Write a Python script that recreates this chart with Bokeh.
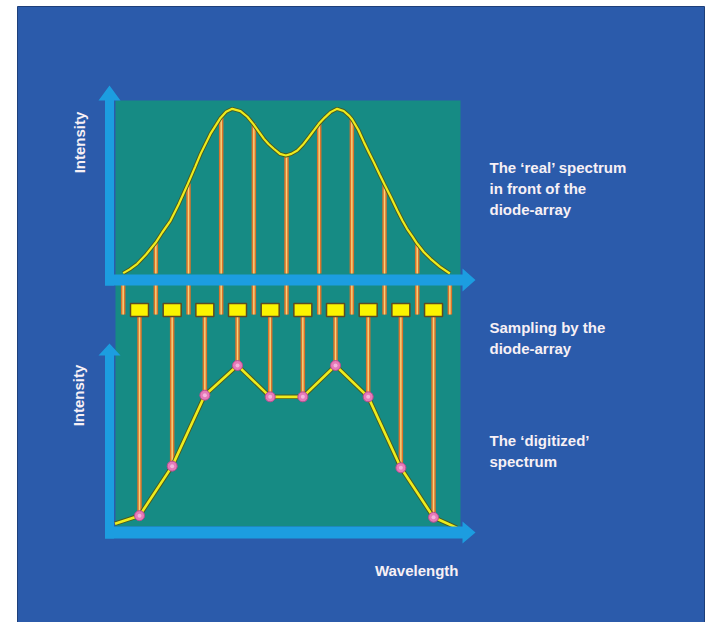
import math
from bokeh.plotting import figure
from bokeh.models import Range1d
from bokeh.core.properties import value
from bokeh.embed import file_html
from bokeh.resources import INLINE

# ---------------- data ----------------
# diode boundaries (wavelength index) and the real spectrum at them
edge_x = [0, 1, 2, 3, 4, 5, 6, 7, 8, 9, 10]
edge_real = [0, 18.8, 54.5, 94.5, 91, 72, 91.5, 93, 54, 18, 0]

# the smooth 'real' spectrum
curve_x = [0.00, 0.20, 0.43, 0.70, 0.99, 1.20, 1.45, 1.70, 1.98, 2.20, 2.37, 2.67,
           2.98, 3.15, 3.34, 3.59, 3.80, 3.98, 4.15, 4.31, 4.45, 4.61, 4.80, 4.98,
           5.15, 5.33, 5.50, 5.68, 5.85, 5.99, 6.17, 6.35, 6.55, 6.75, 6.92, 7.01,
           7.20, 7.37, 7.53, 7.67, 7.85, 8.00, 8.20, 8.39, 8.55, 8.69, 8.85, 9.00,
           9.20, 9.41, 9.70, 10.00]
curve_y = [0.2, 2.5, 5.9, 11.5, 18.6, 25.0, 32.1, 42.0, 54.3, 64.5, 72.5, 84.6,
           94.3, 98.0, 99.8, 98.4, 95.0, 90.7, 86.0, 81.6, 78.5, 75.6, 72.5, 71.5,
           72.5, 74.5, 78.0, 82.6, 87.0, 90.7, 94.5, 97.8, 99.8, 98.5, 95.5, 93.3,
           87.0, 79.6, 73.0, 67.5, 60.0, 53.9, 46.0, 38.2, 32.0, 27.1, 22.5, 18.0,
           13.0, 8.9, 4.0, 0.0]

diode_x = [0.5, 1.5, 2.5, 3.5, 4.5, 5.5, 6.5, 7.5, 8.5, 9.5]
digit_y = [9, 39, 82, 100, 81, 81, 100, 81, 38, 8]
digit_line_x = [-0.25, 0.5, 1.5, 2.5, 3.5, 4.5, 5.5, 6.5, 7.5, 8.5, 9.5, 10.22]
digit_line_y = [4.1, 9, 39, 82, 100, 81, 81, 100, 81, 38, 8, 1.6]

labels_real = ["The \u2018real\u2019 spectrum", "in front of the", "diode-array"]
labels_sampling = ["Sampling by the", "diode-array"]
labels_digit = ["The \u2018digitized\u2019", "spectrum"]
axis_y_label = "Intensity"
axis_x_label = "Wavelength"

# ---------------- layout ----------------
W, H = 709, 622
OFF = 0
X0_PX, X_SCALE = 122.67, 32.67     # page x of wavelength 0, px per unit
U0_PX, L0_PX, Y_SCALE = 273.0, 530.0, 1.65

BLUE = "#2b5bab"
TEAL = "#168b84"
ARROW = "#1c9de0"
YELLOW = "#ecec1e"
STICK_OUT = "#dc742a"
STICK_IN = "#f6d27a"
PINK = "#e67ab9"
TXT = "#f7f0f5"
FONT = value("Liberation Sans")

p = figure(width=W, height=H, x_range=Range1d(OFF, OFF + W), y_range=Range1d(OFF + H, OFF),
           output_backend="svg", toolbar_location=None, x_axis_type=None, y_axis_type=None,
           min_border=0)
p.outline_line_color = None
p.background_fill_color = "white"
p.border_fill_color = "white"
p.extra_x_ranges = {"wl": Range1d((OFF - X0_PX) / X_SCALE, (OFF + W - X0_PX) / X_SCALE)}
p.extra_y_ranges = {
    "upper": Range1d((U0_PX - (OFF + H)) / Y_SCALE, (U0_PX - OFF) / Y_SCALE),
    "lower": Range1d((L0_PX - (OFF + H)) / Y_SCALE, (L0_PX - OFF) / Y_SCALE),
}

def px_to_lower(py):
    return (L0_PX - py) / Y_SCALE

# background panels
p.quad(left=17, right=704, top=6, bottom=630, fill_color=BLUE, line_color="#1d3f7a", line_width=1)
p.quad(left=115, right=460, top=100, bottom=526, fill_color=TEAL, line_color=None)

# upper sticks
up_kw = dict(x_range_name="wl", y_range_name="upper")
p.segment(x0=edge_x, y0=[0] * len(edge_x), x1=edge_x, y1=edge_real,
          line_color=STICK_OUT, line_width=4.5, **up_kw)
p.segment(x0=edge_x, y0=[0] * len(edge_x), x1=edge_x, y1=edge_real,
          line_color=STICK_IN, line_width=1.5, **up_kw)
# real spectrum curve
p.line(curve_x, curve_y, line_color="#4d5a1c", line_width=4, **up_kw)
p.line(curve_x, curve_y, line_color=YELLOW, line_width=2.2, **up_kw)

# stubs below the upper axis (diode boundaries)
stub_top, stub_bot = px_to_lower(283), px_to_lower(314)
lo_kw = dict(x_range_name="wl", y_range_name="lower")
p.segment(x0=edge_x, y0=[stub_top] * len(edge_x), x1=edge_x, y1=[stub_bot] * len(edge_x),
          line_color=STICK_OUT, line_width=4.5, **lo_kw)
p.segment(x0=edge_x, y0=[stub_top] * len(edge_x), x1=edge_x, y1=[stub_bot] * len(edge_x),
          line_color=STICK_IN, line_width=1.5, **lo_kw)

sensor_y = px_to_lower(309.5)
p.segment(x0=diode_x, y0=[sensor_y] * len(diode_x), x1=diode_x, y1=digit_y,
          line_color=STICK_OUT, line_width=4.5, **lo_kw)
p.segment(x0=diode_x, y0=[sensor_y] * len(diode_x), x1=diode_x, y1=digit_y,
          line_color=STICK_IN, line_width=1.5, **lo_kw)

# diodes
p.rect(x=diode_x, y=[sensor_y] * len(diode_x), width=18, height=13,
       width_units="screen", height_units="screen",
       fill_color="#fbf400", line_color="#5e4a22", line_width=1.5, **lo_kw)

p.line(digit_line_x, digit_line_y, line_color="#4d5a1c", line_width=4.5, **lo_kw)
p.line(digit_line_x, digit_line_y, line_color=YELLOW, line_width=2.6, **lo_kw)
p.scatter(diode_x, digit_y, size=10, fill_color=PINK, line_color="#b84c90", line_width=1, **lo_kw)
p.scatter(diode_x, digit_y, size=4, fill_color="#f4b4dc", line_color=None, **lo_kw)

# axes arrows (page-pixel geometry)
arrows = [
    ([104.5, 462, 462, 475, 462, 462, 104.5], [274, 274, 268, 279.5, 291, 285, 285]),
    ([104.5, 104.5, 98, 109, 120, 113.5, 113.5], [285, 100, 100, 85, 100, 100, 285]),
    ([104.5, 462, 462, 475, 462, 462, 104.5], [526, 526, 521, 532, 543, 538, 538]),
    ([104.5, 104.5, 98, 109, 120, 113.5, 113.5], [538, 355, 355, 343, 355, 355, 538]),
]
for ax, ay in arrows:
    p.patch(ax, ay, fill_color=ARROW, line_color=None)

# texts
tkw = dict(text_color=TXT, text_font=FONT, text_font_style="bold", text_font_size="15px",
           text_baseline="middle")
p.text(x=[79, 78], y=[142, 395], text=[axis_y_label, axis_y_label], angle=math.pi / 2,
       text_align="center", **tkw)
p.text(x=[489] * 3, y=[167, 188, 209], text=labels_real, text_align="left", **tkw)
p.text(x=[489] * 2, y=[327, 348], text=labels_sampling, text_align="left", **tkw)
p.text(x=[489] * 2, y=[440, 461], text=labels_digit, text_align="left", **tkw)
p.text(x=[458], y=[570], text=[axis_x_label], text_align="right", **tkw)

open("out.html", "w").write(file_html(p, INLINE))
